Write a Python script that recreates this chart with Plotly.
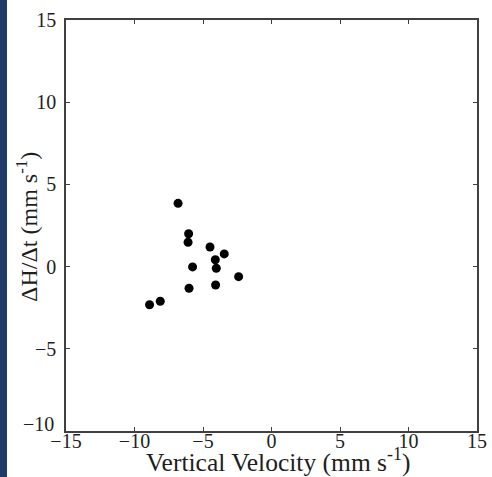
import plotly.graph_objects as go

vertical_velocity = [-6.82, -6.05, -6.09, -4.49, -3.45, -4.10, -5.76, -4.03, -2.40, -6.02, -4.08, -8.12, -8.90]
dh_dt = [3.85, 2.00, 1.48, 1.19, 0.77, 0.42, -0.02, -0.10, -0.61, -1.32, -1.12, -2.11, -2.32]

x_ticks = [-15, -10, -5, 0, 5, 10, 15]
y_ticks = [-10, -5, 0, 5, 10, 15]

x_title = "Vertical Velocity (mm s<sup>-1</sup>)"
y_title = "\u0394H/\u0394t (mm s<sup>-1</sup>)"

W, H = 492, 477
ml, mr, mt, mb = 66, 15, 20, 46
pw, ph = W - ml - mr, H - mt - mb

SERIF = "Liberation Serif"
TXT = "#1e1e1e"


def fmt(v):
    return str(v).replace("-", "\u2212")


fig = go.Figure()
fig.add_trace(go.Scatter(
    x=vertical_velocity, y=dh_dt, mode="markers",
    marker=dict(color="black", size=9, line=dict(width=0)),
    showlegend=False, hoverinfo="x+y",
))

axis_common = dict(
    showgrid=False, zeroline=False, showline=True, linecolor="#404040", linewidth=1.5,
    mirror="ticks", ticks="inside", ticklen=4, tickwidth=1.2, tickcolor="#404040",
    tickfont=dict(family=SERIF, size=20, color=TXT), automargin=False,
)

fig.update_xaxes(
    range=[-15, 15], tickvals=x_ticks, ticktext=[fmt(v) for v in x_ticks],
    ticklabelstandoff=-9,
    **axis_common,
)
# lowest y label is nudged upward (as in the reference) so it sits above the x labels
y_low = min(y_ticks)
fig.update_yaxes(
    range=[-10, 15], tickvals=y_ticks, ticktext=["" if v == y_low else fmt(v) for v in y_ticks],
    ticklabelstandoff=4,
    **axis_common,
)
fig.add_annotation(text=fmt(y_low), xref="paper", yref="y", x=0, y=y_low,
                   xanchor="right", yanchor="middle", xshift=-10, yshift=7,
                   showarrow=False, font=dict(family=SERIF, size=20, color=TXT))

# titles as annotations for precise placement
fig.add_annotation(text=x_title, xref="paper", yref="paper",
                   x=(278 - ml) / pw, y=-(460 - (H - mb)) / ph, xanchor="center", yanchor="middle",
                   showarrow=False, font=dict(family=SERIF, size=25.5, color=TXT))
fig.add_annotation(text=y_title, xref="paper", yref="paper",
                   x=-(ml - 27) / pw, y=((H - mb) - 227) / ph, xanchor="center", yanchor="middle",
                   textangle=-90, showarrow=False, font=dict(family=SERIF, size=24, color=TXT))

fig.add_shape(type="rect", xref="paper", yref="paper",
              x0=-ml / pw, x1=(7 - ml) / pw, y0=-mb / ph, y1=1 + mt / ph,
              fillcolor="#1e3a66", line=dict(width=0), layer="below")

fig.update_layout(
    width=W, height=H,
    margin=dict(l=ml, r=mr, t=mt, b=mb, autoexpand=False),
    paper_bgcolor="white", plot_bgcolor="white",
)

fig.write_html("out.html", config={"displayModeBar": False},
               post_script="document.body.style.margin='0';document.body.style.overflow='hidden';")
